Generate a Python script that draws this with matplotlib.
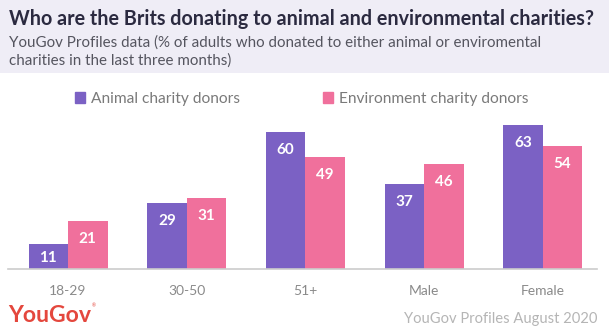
import matplotlib
matplotlib.use('Agg')
import matplotlib.pyplot as plt
from matplotlib.patches import Rectangle, Patch
import numpy as np

groups = ['18-29', '30-50', '51+', 'Male', 'Female']
animal = [11, 29, 60, 37, 63]
environment = [21, 31, 49, 46, 54]
series_names = ['Animal charity donors', 'Environment charity donors']

purple = '#7b61c4'
pink = '#f0709c'
W, H = 609, 332
PX = 72 / 100  # points per pixel

plt.rcParams['font.family'] = ['Lato', 'DejaVu Sans']

fig = plt.figure(figsize=(W / 100, H / 100), dpi=100)
fig.patch.set_facecolor('white')

# header band
fig.patches.append(Rectangle((0, 1 - 73 / H), 1, 73 / H, transform=fig.transFigure,
                             facecolor='#efedf6', edgecolor='none', zorder=0))

fig.text(9 / W, 1 - 25 / H, 'Who are the Brits donating to animal and environmental charities?',
         fontsize=14.2, fontweight='bold', color='#2b2a40', va='baseline', ha='left')
fig.text(9 / W, 1 - 46.5 / H, 'YouGov Profiles data (% of adults who donated to either animal or enviromental',
         fontsize=10.9, color='#55555f', va='baseline', ha='left')
fig.text(9 / W, 1 - 65 / H, 'charities in the last three months)',
         fontsize=10.9, color='#55555f', va='baseline', ha='left')

pitch = 118.7
ax = fig.add_axes([8 / W, 63 / H, 589 / W, 159 / H])
x = np.arange(len(groups))
bw = 39.5 / pitch
b1 = ax.bar(x - bw / 2, animal, bw, color=purple, zorder=2)
b2 = ax.bar(x + bw / 2, environment, bw, color=pink, zorder=2)

ax.set_xlim(-60 / pitch, (597 - 68) / pitch)
ax.set_ylim(0, 159 / 2.286)

for bars in (b1, b2):
    for r in bars:
        h = r.get_height()
        px = h * 2.286
        off = min(18, px / 2 + 2)
        ax.annotate(str(int(h)), (r.get_x() + r.get_width() / 2, h), xytext=(0, -off * PX),
                    textcoords='offset points', ha='center', va='center',
                    color='white', fontsize=11, fontweight='bold')

for s in ['top', 'right', 'left']:
    ax.spines[s].set_visible(False)
ax.spines['bottom'].set_color('#cccccc')
ax.spines['bottom'].set_linewidth(1.2)
ax.set_yticks([])
ax.set_xticks(x)
ax.set_xticklabels(groups, color='#8a8a8a', fontsize=10)
ax.tick_params(axis='x', length=0, pad=11.5)

# legend entries placed one by one (figure legends, each drawn once)
leg_x = [75, 323]
for i, (name, col) in enumerate(zip(series_names, [purple, pink])):
    lg = fig.legend([Patch(color=col)], [name], loc='center left',
                    bbox_to_anchor=(leg_x[i] / W, 1 - 99 / H), bbox_transform=fig.transFigure,
                    frameon=False, prop={'size': 11.2},
                    handlelength=0.62, handleheight=0.62,
                    handletextpad=0.42, borderpad=0, borderaxespad=0)
    lg.get_texts()[0].set_color('#7a7a7a')

fig.text(8 / W, 1 - 322 / H, 'YouGov', fontsize=16.6, fontweight='bold', color='#e4473d',
         va='baseline', ha='left')
fig.text(92 / W, 1 - 306 / H, '\u00ae', fontsize=3.5, color='#e4473d', va='center', ha='left')
fig.text(597 / W, 1 - 319 / H, 'YouGov Profiles August 2020', fontsize=10.6, color='#b5b5b5',
         va='center', ha='right')

fig.savefig('out.png', dpi=100)
